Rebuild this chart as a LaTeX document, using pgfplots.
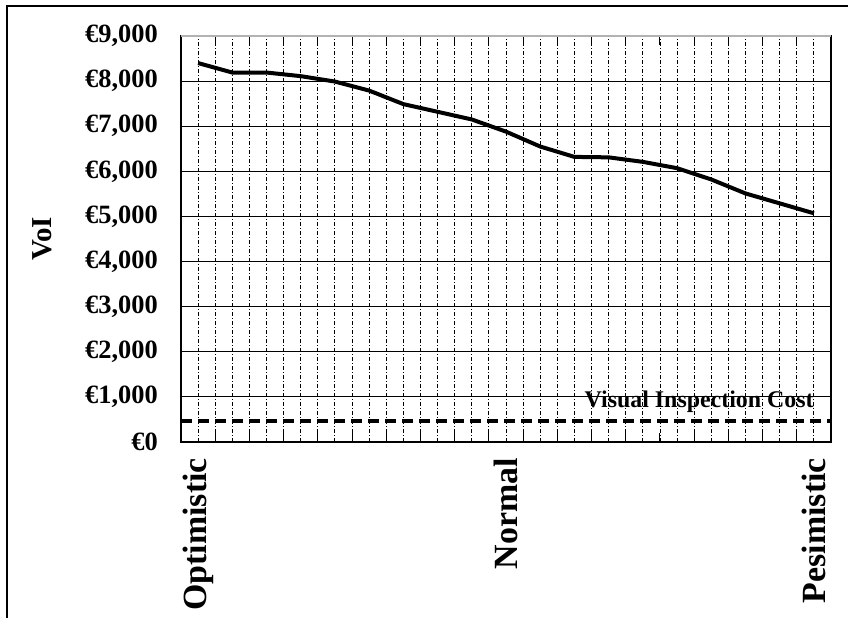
\documentclass[border=0pt]{standalone}
\usepackage{fontspec}
\setmainfont{Liberation Serif}
\usepackage{pgfplots}
\usepackage{pgfplotstable}
\pgfplotsset{compat=1.18}
\pgfplotstableread{
x y
0 8400
1 8190
2 8190
3 8110
4 7990
5 7790
6 7490
7 7320
8 7150
9 6880
10 6550
11 6320
12 6310
13 6210
14 6070
15 5820
16 5510
17 5290
18 5070
}\voidata
\begin{document}
\begin{tikzpicture}
\useasboundingbox (0,0) rectangle (848bp,618bp);
\fill[white] (0,0) rectangle (848bp,618bp);
\draw[line width=2bp] (6.5bp,0) -- (6.5bp,611.5bp) -- (848bp,611.5bp);
\begin{axis}[
  at={(181bp,176bp)}, anchor=south west,
  scale only axis, width=650bp, height=406bp,
  xmin=-0.5, xmax=18.5, ymin=0, ymax=9000,
  axis line style={line width=1.5bp, black},
  xtick={0,9,18},
  xticklabels={Optimistic,Normal,Pesimistic},
  minor xtick={0.5,1,...,18},
  ytick={0,1000,...,9000},
  scaled y ticks=false,
  tick align=inside,
  major tick length=0pt, minor tick length=0pt,
  xmajorgrids, xminorgrids, ymajorgrids,
  major x grid style={black, line width=0.9bp, dash pattern=on 4bp off 2bp on 1bp off 2bp},
  minor x grid style={black, line width=0.9bp, dash pattern=on 4bp off 2bp on 1bp off 2bp},
  major y grid style={black, line width=1bp, solid},
  extra x ticks={0.5,1.5,...,17.5},
  extra x tick labels={},
  extra x tick style={grid=none, major tick length=9bp, tick style={solid, black, line width=1bp}},
  yticklabel={€\pgfmathprintnumber{\tick}},
  /pgf/number format/.cd, fixed, 1000 sep={,}, assume math mode=true,
  /pgfplots/.cd,
  yticklabel shift=23bp,
  xticklabel shift=16bp,
  y tick label style={font=\fontsize{26.5}{30}\selectfont\bfseries, anchor=east, inner sep=0pt},
  x tick label style={font=\fontsize{34}{38}\selectfont\bfseries, rotate=90, anchor=east, inner sep=0pt},
  clip=false,
]
\addplot[black, line width=4bp, line join=round] table[x=x,y=y] {\voidata};
\addplot[black, line width=4bp, dash pattern=on 11bp off 6bp] coordinates {(-0.5,470) (18.5,470)};
\node[font=\fontsize{24}{28}\selectfont\bfseries, anchor=base east, inner sep=0pt, yshift=13bp] at (axis cs:18,470) {Visual Inspection Cost};
\draw[gray!60, line width=1.5bp] (rel axis cs:0,1) -- (rel axis cs:1,1);
\node[font=\fontsize{29}{32}\selectfont\bfseries, rotate=90, anchor=center, yshift=139bp] at (rel axis cs:0,0.5) {VoI};
\end{axis}
\end{tikzpicture}
\end{document}
